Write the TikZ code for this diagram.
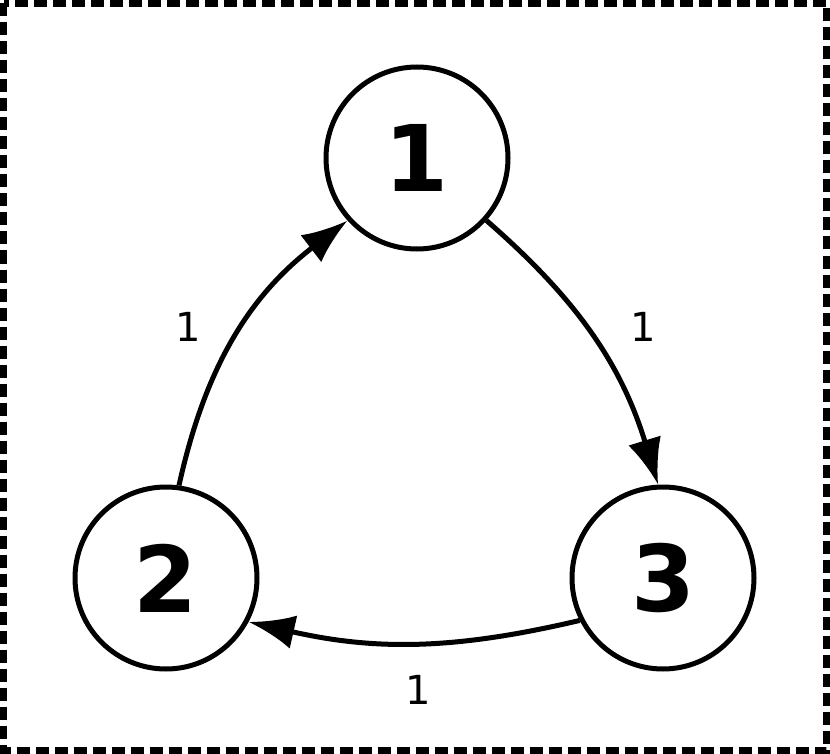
\documentclass[tikz,border=0pt]{standalone}
\usepackage{fontspec}
\setmainfont{DejaVu Sans}
\usetikzlibrary{arrows.meta}
\begin{document}
\begin{tikzpicture}[x=1pt,y=-1pt,
  vert/.style={circle,draw,line width=5pt,minimum size=182pt,inner sep=0pt,font=\fontsize{92}{92}\selectfont\bfseries},
  edge/.style={line width=5pt,-{Latex[length=46pt,width=34pt]}},
  lab/.style={font=\fontsize{40}{40}\selectfont}]
\useasboundingbox (0,0) rectangle (830,754);
\draw[line width=7pt,dash pattern=on 13pt off 6pt] (3.5,3.5) rectangle (826.5,750.5);
\node[vert] (n1) at (417,158) {1};
\node[vert] (n2) at (166,578) {2};
\node[vert] (n3) at (663,578) {3};
\draw[edge] (n2.82) to[bend left=20] (n1.222);
\draw[edge] (n1.-42) to[bend left=16] (n3.93);
\draw[edge] (n3.207) to[bend left=13] (n2.-28);
\node[lab] (l1) at (188,327) {1};
\node[lab] (l2) at (643,327) {1};
\node[lab] (l3) at (418,690) {1};
\end{tikzpicture}
\end{document}
